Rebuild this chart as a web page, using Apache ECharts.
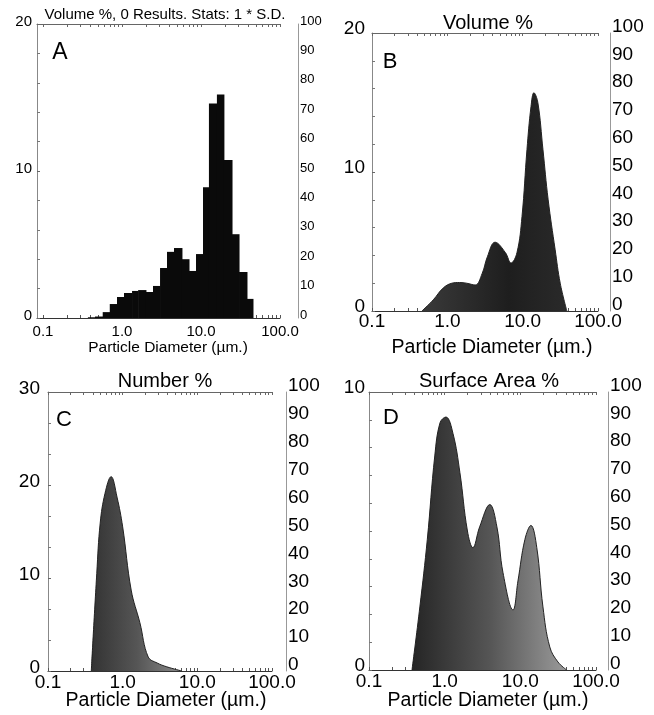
<!DOCTYPE html>
<html><head><meta charset="utf-8">
<script src="https://cdn.jsdelivr.net/npm/echarts@6/dist/echarts.min.js"></script>
<style>html,body{margin:0;padding:0;background:#fff}#c{width:654px;height:715px}</style>
</head><body><div id="c"></div>
<script>
// ---- tick labels / tick positions (µm) ----
const xTickDiam = [0.1, 1, 10, 100];
const xTickLabels = ['0.1', '1.0', '10.0', '100.0'];
const xMinorDiam = [0.2,0.3,0.4,0.5,0.6,0.7,0.8,0.9,2,3,4,5,6,7,8,9,20,30,40,50,60,70,80,90];

// ---- Panel A: Volume % histogram (bin edges in µm, values in %) ----
const binEdgesA = [0.37, 0.455, 0.57, 0.70, 0.865, 1.06, 1.34, 1.60, 2.01, 2.47, 3.03, 3.71, 4.55, 5.74, 7.05, 8.65, 10.6, 12.6, 15.9, 19.5, 24.7, 30.3, 38.2, 45.5];
const volA = [0.05, 0.1, 0.4, 0.95, 1.43, 1.7, 1.84, 1.9, 1.77, 2.18, 3.4, 4.5, 4.76, 4.0, 3.2, 4.35, 8.9, 14.6, 15.2, 10.75, 5.7, 3.13, 1.3];

// ---- Panel B: Volume % curve ----
const diamB = [0.46, 0.65, 0.88, 1.15, 1.45, 1.8, 2.34, 2.9, 3.4, 4.3, 5.9, 7.0, 8.4, 9.8, 11.4, 12.9, 14.1, 15.9, 18.6, 21.8, 27, 31.5, 38.6];
const volB = [0, 0.8, 1.65, 2.0, 2.05, 2.0, 1.87, 2.7, 3.9, 4.95, 4.2, 3.45, 4.2, 6.8, 11.6, 14.7, 15.7, 15.0, 11.6, 8.0, 4.4, 2.0, 0];

// ---- Panel C: Number % curve ----
const diamC = [0.38, 0.45, 0.50, 0.58, 0.70, 0.84, 1.0, 1.3, 1.7, 2.2, 2.9, 3.9, 6.2];
const numC = [0, 10.5, 15.9, 19.1, 20.9, 18.7, 15.5, 8.7, 5.2, 1.5, 0.86, 0.45, 0];

// ---- Panel D: Surface Area % curve ----
const diamD = [0.37, 0.47, 0.59, 0.74, 0.87, 1.04, 1.29, 1.59, 2.0, 2.36, 2.9, 3.95, 4.9, 5.9, 8.0, 9.3, 11.5, 13.8, 16.5, 19.9, 24.5, 31.4, 41];
const areaD = [0, 2.27, 4.7, 7.7, 8.9, 9.1, 8.5, 7.1, 5.0, 4.4, 5.15, 5.95, 5.15, 3.5, 2.16, 3.2, 4.7, 5.2, 4.4, 2.27, 0.83, 0.29, 0];

// ---- Panel texts ----
const panelLetters = ['A', 'B', 'C', 'D'];
const panelTitles = ['Volume %, 0 Results. Stats: 1 * S.D.', 'Volume %', 'Number %', 'Surface Area %'];
const xAxisTitle = 'Particle Diameter (µm.)';
const leftMax = [20, 20, 30, 10];
const rightMax = 100;

const FONT = '"Liberation Sans", Arial, Helvetica, sans-serif';
const lg = Math.log10;

const layouts = [
  {left: 37, top: 24, width: 243, height: 294, xmin: -1.076, roff: 18, numFs: 15, rFs: 13, xFs: 15, xMargin: 6, yMargin: 5, minorSplit: 5, lShift: 2, rShift: 3,
   letter: [60, 53, 23], title: [165, 15, 15], xtitle: [168, 348, 15.5]},
  {left: 372, top: 33, width: 226, height: 278, xmin: -1, roff: 12, numFs: 19, rFs: 19, xFs: 19, xMargin: 1, yMargin: 7, minorSplit: 5, lShift: 4, rShift: 6.5,
   letter: [390, 62, 22], title: [488, 23, 20], xtitle: [492, 348, 19.5]},
  {left: 48, top: 392, width: 224, height: 279, xmin: -1, roff: 14, numFs: 19, rFs: 19, xFs: 19, xMargin: 2, yMargin: 8, minorSplit: 3, lShift: 3, rShift: 6,
   letter: [64, 420, 22], title: [165, 381, 20], xtitle: [166, 701, 19.5]},
  {left: 369, top: 392, width: 227, height: 278, xmin: -1, roff: 12, numFs: 19, rFs: 19, xFs: 19, xMargin: 2, yMargin: 4, minorSplit: 10, lShift: 4, rShift: 6.5,
   letter: [391, 418, 22], title: [489, 381, 20], xtitle: [488, 701, 19.5]}
];

const tickLogs = xTickDiam.concat(xMinorDiam).map(lg);
const labelLogs = xTickDiam.map(lg);

const grid = [], xAxis = [], yAxis = [], series = [], graphic = [];

layouts.forEach((L, i) => {
  grid.push({left: L.left, top: L.top, width: L.width, height: L.height, containLabel: false});
  // bottom x axis
  xAxis.push({
    gridIndex: i, type: 'value', min: L.xmin, max: 2, position: 'bottom',
    axisLine: {show: true, onZero: false, lineStyle: {color: '#333', width: 1}},
    axisTick: {show: true, inside: true, length: 3, customValues: tickLogs, lineStyle: {color: '#555'}},
    axisLabel: {customValues: labelLogs, margin: L.xMargin, fontSize: L.xFs, fontFamily: FONT, color: '#000',
      formatter: v => xTickLabels[Math.round(v) + 1]},
    splitLine: {show: false}
  });
  // top x axis (frame with ticks)
  xAxis.push({
    gridIndex: i, type: 'value', min: L.xmin, max: 2, position: 'top',
    axisLine: {show: true, onZero: false, lineStyle: {color: '#666', width: 1}},
    axisTick: {show: true, inside: true, length: 3, customValues: tickLogs, lineStyle: {color: '#666'}},
    axisLabel: {show: false}, splitLine: {show: false}
  });
  // left y axis
  yAxis.push({
    gridIndex: i, type: 'value', min: 0, max: leftMax[i], interval: 10, position: 'left',
    axisLine: {show: true, onZero: false, lineStyle: {color: '#888', width: 1}},
    axisTick: {show: true, inside: true, length: 3, lineStyle: {color: '#666'}},
    minorTick: {show: true, splitNumber: L.minorSplit, length: 3, lineStyle: {color: '#777'}},
    axisLabel: {margin: L.yMargin, fontSize: L.numFs, fontFamily: FONT, color: '#000',
      verticalAlign: 'bottom', lineHeight: 2 * L.lShift},
    splitLine: {show: false}, minorSplitLine: {show: false}
  });
  // right y axis (cumulative 0-100)
  yAxis.push({
    gridIndex: i, type: 'value', min: 0, max: rightMax, interval: 10, position: 'right', offset: L.roff,
    axisLine: {show: true, onZero: false, lineStyle: {color: '#999', width: 1}},
    axisTick: {show: false},
    axisLabel: {margin: 2, fontSize: L.rFs, fontFamily: FONT, color: '#000',
      verticalAlign: 'bottom', lineHeight: 2 * L.rShift},
    splitLine: {show: false}
  });
  // texts
  graphic.push({type: 'text', x: L.letter[0], y: L.letter[1], style: {text: panelLetters[i], font: L.letter[2] + 'px ' + FONT, fill: '#000', textAlign: 'center', textVerticalAlign: 'middle', verticalAlign: 'middle'}});
  graphic.push({type: 'text', x: L.title[0], y: L.title[1], style: {text: panelTitles[i], font: L.title[2] + 'px ' + FONT, fill: '#000', textAlign: 'center', textVerticalAlign: 'middle', verticalAlign: 'middle'}});
  graphic.push({type: 'text', x: L.xtitle[0], y: L.xtitle[1], style: {text: xAxisTitle, font: L.xtitle[2] + 'px ' + FONT, fill: '#000', textAlign: 'center', textVerticalAlign: 'middle', verticalAlign: 'middle'}});
});

// Panel A histogram (custom bars spanning log bins)
series.push({
  type: 'custom', xAxisIndex: 0, yAxisIndex: 0,
  data: volA.map((v, k) => [lg(binEdgesA[k]), lg(binEdgesA[k + 1]), v]),
  encode: {x: [0, 1], y: 2},
  renderItem: (params, api) => {
    const p1 = api.coord([api.value(0), api.value(2)]);
    const p2 = api.coord([api.value(1), 0]);
    return {type: 'rect', shape: {x: p1[0], y: p1[1], width: p2[0] - p1[0] + 0.5, height: p2[1] - p1[1]}, style: {fill: '#0a0a0a'}};
  }
});

function curve(gridIdx, d, v, stops) {
  return {
    type: 'line', xAxisIndex: gridIdx * 2, yAxisIndex: gridIdx * 2,
    data: d.map((x, k) => [lg(x), v[k]]),
    smooth: 0.4, symbol: 'none',
    lineStyle: {width: 1, color: '#222'},
    areaStyle: {opacity: 1, color: {type: 'linear', x: 0, y: 0, x2: 1, y2: 0, colorStops: stops}}
  };
}
series.push(curve(1, diamB, volB, [{offset: 0, color: '#3a3a3a'}, {offset: 0.6, color: '#1e1e1e'}, {offset: 1, color: '#2a2a2a'}]));
series.push(curve(2, diamC, numC, [{offset: 0, color: '#333'}, {offset: 0.5, color: '#555'}, {offset: 1, color: '#8a8a8a'}]));
series.push(curve(3, diamD, areaD, [{offset: 0, color: '#252525'}, {offset: 0.5, color: '#555'}, {offset: 1, color: '#9a9a9a'}]));

const chart = echarts.init(document.getElementById('c'));
chart.setOption({animation: false, backgroundColor: '#fff', grid, xAxis, yAxis, series, graphic});
</script></body></html>
